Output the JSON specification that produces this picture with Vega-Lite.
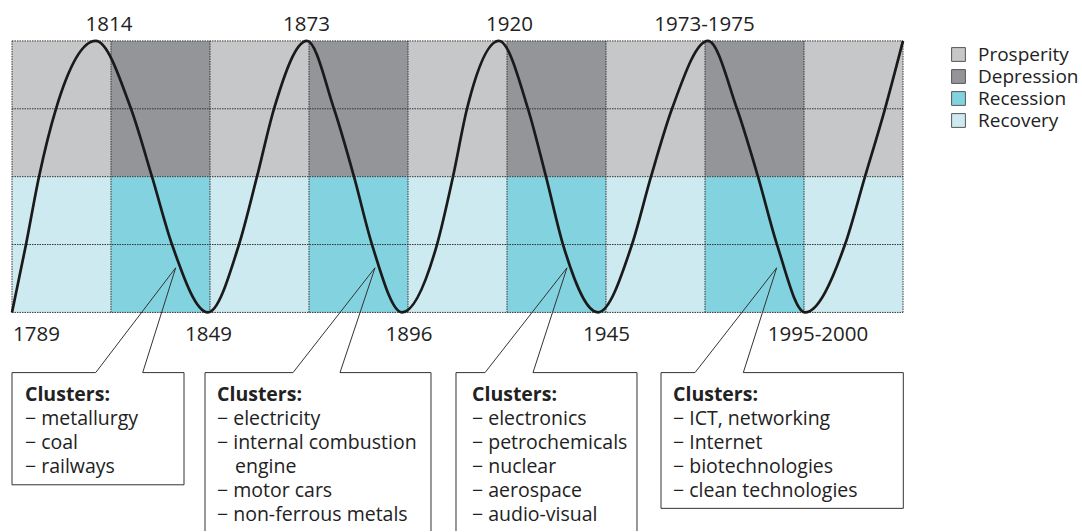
{
  "$schema": "https://vega.github.io/schema/vega-lite/v6.json",
  "width": 1082,
  "height": 532,
  "autosize": {"type": "fit", "contains": "padding"},
  "padding": 0,
  "background": "white",
  "config": {"view": {"stroke": null}, "font": "Open Sans"},
  "datasets": {
    "cells": [
      {"x": 0, "x2": 1, "y": 2, "y2": 4, "phase": "Prosperity"},
      {"x": 1, "x2": 2, "y": 2, "y2": 4, "phase": "Depression"},
      {"x": 2, "x2": 3, "y": 2, "y2": 4, "phase": "Prosperity"},
      {"x": 3, "x2": 4, "y": 2, "y2": 4, "phase": "Depression"},
      {"x": 4, "x2": 5, "y": 2, "y2": 4, "phase": "Prosperity"},
      {"x": 5, "x2": 6, "y": 2, "y2": 4, "phase": "Depression"},
      {"x": 6, "x2": 7, "y": 2, "y2": 4, "phase": "Prosperity"},
      {"x": 7, "x2": 8, "y": 2, "y2": 4, "phase": "Depression"},
      {"x": 8, "x2": 9, "y": 2, "y2": 4, "phase": "Prosperity"},
      {"x": 0, "x2": 1, "y": 0, "y2": 2, "phase": "Recovery"},
      {"x": 1, "x2": 2, "y": 0, "y2": 2, "phase": "Recession"},
      {"x": 2, "x2": 3, "y": 0, "y2": 2, "phase": "Recovery"},
      {"x": 3, "x2": 4, "y": 0, "y2": 2, "phase": "Recession"},
      {"x": 4, "x2": 5, "y": 0, "y2": 2, "phase": "Recovery"},
      {"x": 5, "x2": 6, "y": 0, "y2": 2, "phase": "Recession"},
      {"x": 6, "x2": 7, "y": 0, "y2": 2, "phase": "Recovery"},
      {"x": 7, "x2": 8, "y": 0, "y2": 2, "phase": "Recession"},
      {"x": 8, "x2": 9, "y": 0, "y2": 2, "phase": "Recovery"}
    ],
    "grid": [
      {"x": 0, "x2": 0, "y": 0, "y2": 4},
      {"x": 1, "x2": 1, "y": 0, "y2": 4},
      {"x": 2, "x2": 2, "y": 0, "y2": 4},
      {"x": 3, "x2": 3, "y": 0, "y2": 4},
      {"x": 4, "x2": 4, "y": 0, "y2": 4},
      {"x": 5, "x2": 5, "y": 0, "y2": 4},
      {"x": 6, "x2": 6, "y": 0, "y2": 4},
      {"x": 7, "x2": 7, "y": 0, "y2": 4},
      {"x": 8, "x2": 8, "y": 0, "y2": 4},
      {"x": 9, "x2": 9, "y": 0, "y2": 4},
      {"x": 0, "x2": 9, "y": 0, "y2": 0},
      {"x": 0, "x2": 9, "y": 1, "y2": 1},
      {"x": 0, "x2": 9, "y": 2, "y2": 2},
      {"x": 0, "x2": 9, "y": 3, "y2": 3},
      {"x": 0, "x2": 9, "y": 4, "y2": 4}
    ],
    "curve": [
      {"x": 0, "y": 0}, {"x": 0.1414, "y": 1}, {"x": 0.2727, "y": 2}, {"x": 0.4444, "y": 3}, {"x": 0.8455, "y": 4},
      {"x": 1.2020, "y": 3}, {"x": 1.4141, "y": 2}, {"x": 1.6162, "y": 1}, {"x": 1.9798, "y": 0},
      {"x": 2.2929, "y": 1}, {"x": 2.4747, "y": 2}, {"x": 2.6465, "y": 3}, {"x": 2.9798, "y": 4},
      {"x": 3.2525, "y": 3}, {"x": 3.4545, "y": 2}, {"x": 3.6364, "y": 1}, {"x": 3.9394, "y": 0},
      {"x": 4.2929, "y": 1}, {"x": 4.4545, "y": 2}, {"x": 4.5960, "y": 3}, {"x": 4.9192, "y": 4},
      {"x": 5.2121, "y": 3}, {"x": 5.3939, "y": 2}, {"x": 5.5657, "y": 1}, {"x": 5.9192, "y": 0},
      {"x": 6.2626, "y": 1}, {"x": 6.4545, "y": 2}, {"x": 6.6667, "y": 3}, {"x": 7.0303, "y": 4},
      {"x": 7.3232, "y": 3}, {"x": 7.5354, "y": 2}, {"x": 7.7273, "y": 1}, {"x": 8.0101, "y": 0},
      {"x": 8.4141, "y": 1}, {"x": 8.6162, "y": 2}, {"x": 8.8182, "y": 3}, {"x": 9.0, "y": 4}
    ],
    "years": [
      {"x": 0.9798, "y": 4.1471, "label": "1814"},
      {"x": 2.9747, "y": 4.1471, "label": "1873"},
      {"x": 5.0253, "y": 4.1471, "label": "1920"},
      {"x": 6.9949, "y": 4.1471, "label": "1973-1975"},
      {"x": 0.2475, "y": -0.4265, "label": "1789"},
      {"x": 1.9848, "y": -0.4265, "label": "1849"},
      {"x": 4.0101, "y": -0.4265, "label": "1896"},
      {"x": 6.0051, "y": -0.4265, "label": "1945"},
      {"x": 8.1414, "y": -0.4265, "label": "1995-2000"}
    ],
    "callouts": [
      {"x": 0, "x2": 0, "y": -0.8868, "y2": -2.5397},
      {"x": 0, "x2": 1.7374, "y": -2.5397, "y2": -2.5397},
      {"x": 1.7374, "x2": 1.7374, "y": -0.8868, "y2": -2.5397},
      {"x": 0, "x2": 0.8455, "y": -0.8868, "y2": -0.8868},
      {"x": 1.3202, "x2": 1.7374, "y": -0.8868, "y2": -0.8868},
      {"x": 0.8455, "x2": 1.6535, "y": -0.8868, "y2": 0.6574},
      {"x": 1.3202, "x2": 1.6535, "y": -0.8868, "y2": 0.6574},

      {"x": 1.9495, "x2": 1.9495, "y": -0.8868, "y2": -3.2206},
      {"x": 4.2323, "x2": 4.2323, "y": -0.8868, "y2": -3.2206},
      {"x": 1.9495, "x2": 2.8384, "y": -0.8868, "y2": -0.8868},
      {"x": 3.3131, "x2": 4.2323, "y": -0.8868, "y2": -0.8868},
      {"x": 2.8384, "x2": 3.6667, "y": -0.8868, "y2": 0.6574},
      {"x": 3.3131, "x2": 3.6667, "y": -0.8868, "y2": 0.6574},

      {"x": 4.4848, "x2": 4.4848, "y": -0.8868, "y2": -3.2206},
      {"x": 6.3131, "x2": 6.3131, "y": -0.8868, "y2": -3.2206},
      {"x": 4.4848, "x2": 4.7778, "y": -0.8868, "y2": -0.8868},
      {"x": 5.2626, "x2": 6.3131, "y": -0.8868, "y2": -0.8868},
      {"x": 4.7778, "x2": 5.6061, "y": -0.8868, "y2": 0.6574},
      {"x": 5.2626, "x2": 5.6061, "y": -0.8868, "y2": 0.6574},

      {"x": 6.5556, "x2": 6.5556, "y": -0.8868, "y2": -2.8868},
      {"x": 9.0030, "x2": 9.0030, "y": -0.8868, "y2": -2.8868},
      {"x": 6.5556, "x2": 9.0030, "y": -2.8868, "y2": -2.8868},
      {"x": 6.5556, "x2": 6.8990, "y": -0.8868, "y2": -0.8868},
      {"x": 7.3869, "x2": 9.0030, "y": -0.8868, "y2": -0.8868},
      {"x": 6.8990, "x2": 7.7242, "y": -0.8868, "y2": 0.6574},
      {"x": 7.3869, "x2": 7.7242, "y": -0.8868, "y2": 0.6574}
    ],
    "texts": [
      {"x": 0.1313, "y": -1.3044, "text": "Clusters:", "bold": true},
      {"x": 0.1313, "y": -1.6574, "text": "− metallurgy", "bold": false},
      {"x": 0.1313, "y": -2.0103, "text": "− coal", "bold": false},
      {"x": 0.1313, "y": -2.3632, "text": "− railways", "bold": false},

      {"x": 2.0707, "y": -1.3044, "text": "Clusters:", "bold": true},
      {"x": 2.0707, "y": -1.6574, "text": "− electricity", "bold": false},
      {"x": 2.0707, "y": -2.0103, "text": "− internal combustion", "bold": false},
      {"x": 2.2525, "y": -2.3632, "text": "engine", "bold": false},
      {"x": 2.0707, "y": -2.7162, "text": "− motor cars", "bold": false},
      {"x": 2.0707, "y": -3.0691, "text": "− non-ferrous metals", "bold": false},

      {"x": 4.6465, "y": -1.3044, "text": "Clusters:", "bold": true},
      {"x": 4.6465, "y": -1.6574, "text": "− electronics", "bold": false},
      {"x": 4.6465, "y": -2.0103, "text": "− petrochemicals", "bold": false},
      {"x": 4.6465, "y": -2.3632, "text": "− nuclear", "bold": false},
      {"x": 4.6465, "y": -2.7162, "text": "− aerospace", "bold": false},
      {"x": 4.6465, "y": -3.0691, "text": "− audio-visual", "bold": false},

      {"x": 6.6768, "y": -1.3044, "text": "Clusters:", "bold": true},
      {"x": 6.6768, "y": -1.6574, "text": "− ICT, networking", "bold": false},
      {"x": 6.6768, "y": -2.0103, "text": "− Internet", "bold": false},
      {"x": 6.6768, "y": -2.3632, "text": "− biotechnologies", "bold": false},
      {"x": 6.6768, "y": -2.7162, "text": "− clean technologies", "bold": false}
    ]
  },
  "encoding": {
    "x": {"field": "x", "type": "quantitative", "scale": {"domain": [-0.12121, 10.80808], "nice": false, "zero": false}, "axis": null},
    "y": {"field": "y", "type": "quantitative", "scale": {"domain": [-3.22059, 4.60294], "nice": false, "zero": false}, "axis": null}
  },
  "layer": [
    {
      "data": {"name": "cells"},
      "mark": {"type": "rect"},
      "encoding": {
        "x2": {"field": "x2"},
        "y2": {"field": "y2"},
        "color": {
          "field": "phase", "type": "nominal",
          "scale": {"domain": ["Prosperity", "Depression", "Recession", "Recovery"], "range": ["#c6c7c9", "#939598", "#83d2e0", "#cdeaf0"]},
          "legend": {
            "orient": "none", "legendX": 949, "legendY": 45, "title": null,
            "symbolType": "square", "symbolSize": 190, "symbolStrokeColor": "#555", "symbolStrokeWidth": 1,
            "labelFont": "Open Sans", "labelFontSize": 19, "labelColor": "#222", "labelOffset": 10,
            "rowPadding": 2, "padding": 0
          }
        }
      }
    },
    {
      "data": {"name": "grid"},
      "mark": {"type": "rule", "color": "#333", "strokeWidth": 1, "strokeDash": [1.5, 1]},
      "encoding": {"x2": {"field": "x2"}, "y2": {"field": "y2"}}
    },
    {
      "data": {"name": "curve"},
      "mark": {"type": "line", "interpolate": "monotone", "color": "#1a1a1a", "strokeWidth": 2.7},
      "encoding": {}
    },
    {
      "data": {"name": "years"},
      "mark": {"type": "text", "align": "center", "baseline": "alphabetic", "fontSize": 20.5, "font": "Open Sans", "color": "#222"},
      "encoding": {"text": {"field": "label"}}
    },
    {
      "data": {"name": "callouts"},
      "mark": {"type": "rule", "color": "#333", "strokeWidth": 1},
      "encoding": {"x2": {"field": "x2"}, "y2": {"field": "y2"}}
    },
    {
      "data": {"name": "texts"},
      "transform": [{"filter": "datum.bold"}],
      "mark": {"type": "text", "align": "left", "baseline": "alphabetic", "fontSize": 19.5, "font": "Open Sans", "fontWeight": "bold", "color": "#222"},
      "encoding": {"text": {"field": "text"}}
    },
    {
      "data": {"name": "texts"},
      "transform": [{"filter": "!datum.bold"}],
      "mark": {"type": "text", "align": "left", "baseline": "alphabetic", "fontSize": 19.5, "font": "Open Sans", "color": "#222"},
      "encoding": {"text": {"field": "text"}}
    }
  ]
}
